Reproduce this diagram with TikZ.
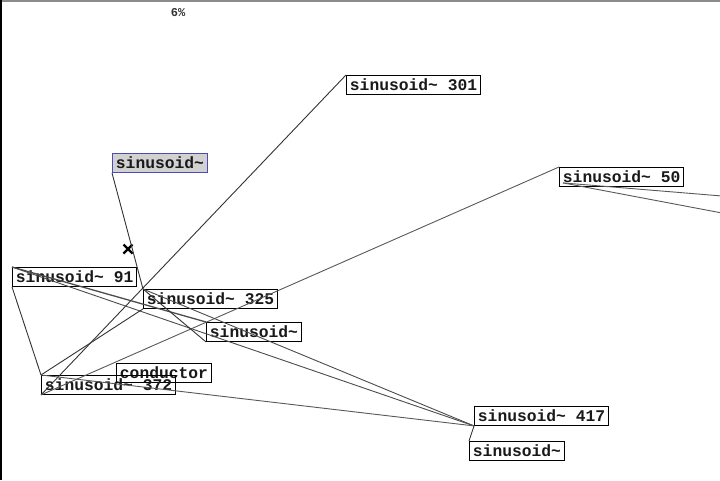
\documentclass[tikz,border=0pt]{standalone}
\usepackage{fontspec}
\setmonofont{Liberation Mono}
\begin{document}
\begin{tikzpicture}[x=1pt,y=-1pt,
  obj/.style={draw=black,line width=0.9pt,anchor=north west,inner xsep=3.5pt,inner ysep=0pt,
    minimum height=19pt,font=\ttfamily\bfseries\fontsize{16.3}{17}\selectfont,text=black!90},
  selobj/.style={obj,draw=blue!60!black!70,fill=black!18},
  wire/.style={draw=black!80,line width=0.9pt}]
\useasboundingbox (0,0) rectangle (720,480);
\fill[white] (0,0) rectangle (720,480);
\draw[black!45,line width=1.5pt] (0,0.75) -- (720,0.75);
\draw[black,line width=1.5pt] (0.75,0) -- (0.75,480);
\node[font=\ttfamily\bfseries\fontsize{12}{13}\selectfont,text=black!80] (pct) at (178,13) {6\%};
% objects
\node[obj] (n301) at (346,75) {sinusoid\char`~{} 301};
\node[selobj] (sel) at (112,153) {sinusoid\char`~};
\node[obj] (n50) at (559,167) {sinusoid\char`~{} 50};
\node[obj] (n91) at (12,267) {sinusoid\char`~{} 91};
\node[obj] (n325) at (143,289) {sinusoid\char`~{} 325};
\node[obj] (s206) at (206,322) {sinusoid\char`~};
\node[obj] (cond) at (116,363) {conductor};
\node[obj] (n372) at (41,375) {sinusoid\char`~{} 372};
\node[obj] (n417) at (474,406) {sinusoid\char`~{} 417};
\node[obj] (s469) at (469,441) {sinusoid\char`~};
% off-canvas ends
\coordinate (offA) at (722,196);
\coordinate (offB) at (722,213);
\coordinate (n50o) at ([shift={(4,-4)}]n50.south west);
% x mark
\coordinate (xm) at (128,249);
\draw[black,line width=2.2pt] ([shift={(-4.5,-4.5)}]xm) -- ([shift={(4.5,4.5)}]xm);
\draw[black,line width=2.2pt] ([shift={(-4.5,4.5)}]xm) -- ([shift={(4.5,-4.5)}]xm);
% connectors
\draw[wire] (sel.south west) -- (n325.north west);
\draw[wire] (n301.north west) -- (n372.south west);
\draw[wire,black!65] (n50.north west) -- (n372.south west);
\draw[wire,black!65] (n50o) -- (offA);
\draw[wire,black!65] (n50o) -- (offB);
\draw[wire] (n91.south west) -- (n372.north west);
\draw[wire,black!70] (n91.north west) -- (n417.south west);
\draw[wire,black!70,line width=1.3pt] (n91.north west) -- (s206.north west);
\draw[wire,black!70] (n325.north west) -- (n417.south west);
\draw[wire] (n325.south west) -- (n372.north west);
\draw[wire] (n325.north west) -- (s206.south west);
\draw[wire,black!65] (n372.north west) -- (n417.south west);
\draw[wire] (n417.south west) -- (s469.north west);
\end{tikzpicture}
\end{document}
